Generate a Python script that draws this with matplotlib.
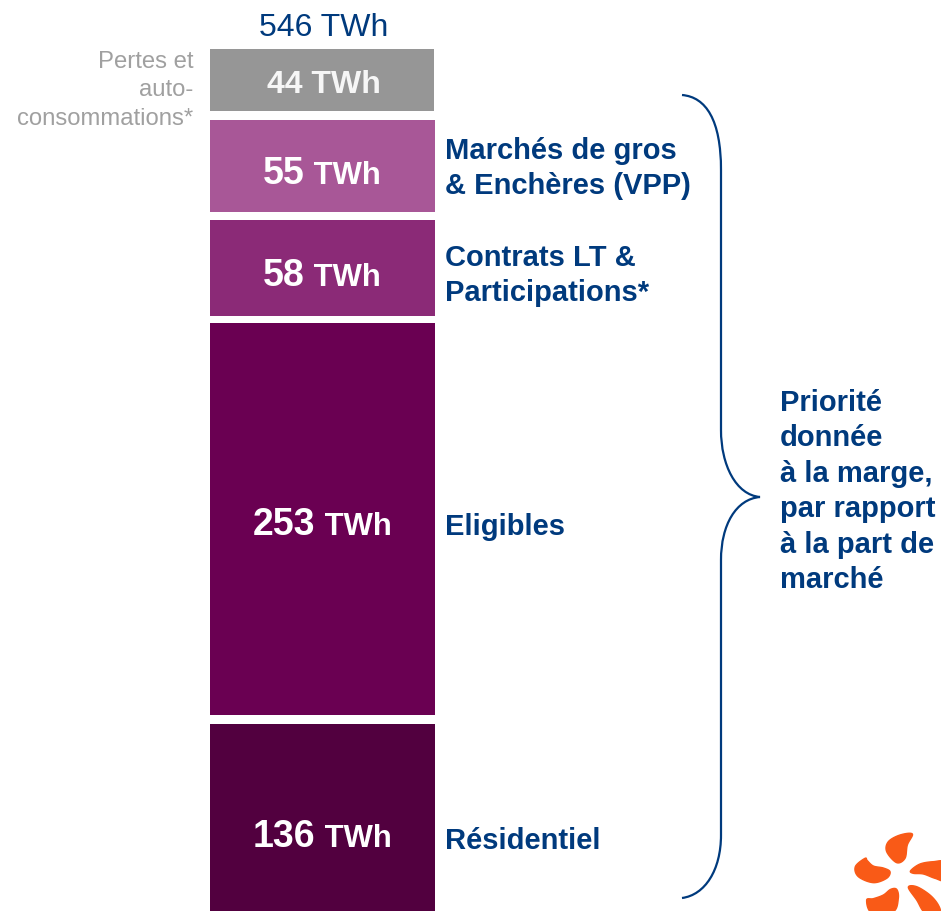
import numpy as np
import matplotlib
matplotlib.use("Agg")
import matplotlib.pyplot as plt
from matplotlib.path import Path
from matplotlib.patches import PathPatch, Polygon

# ---- data, top to bottom ----
categories = ["Pertes et auto-consommations*", "Marchés de gros & Enchères (VPP)",
              "Contrats LT & Participations*", "Eligibles", "Résidentiel"]
values_twh = [44, 55, 58, 253, 136]
total_label = "546 TWh"
side_labels = [None, ["Marchés de gros", "& Enchères (VPP)"],
               ["Contrats LT &", "Participations*"], ["Eligibles"], ["Résidentiel"]]
loss_label = ["Pertes et", "auto-", "consommations*"]
note_label = ["Priorité", "donnée", "à la marge,", "par rapport", "à la part de", "marché"]

# ---- styling / layout (the source graphic is not drawn to a common scale) ----
plt.rcParams["font.family"] = ["Liberation Sans", "DejaVu Sans"]
NAVY, GREY_TXT = "#003A7D", "#A0A0A0"
colors = ["#969696", "#A85797", "#8B2A77", "#6A0052", "#52003F"]
px_per_twh = [62/44, 92/55, 96/58, 392/253, 187/136]
gaps_before = [0, 9, 8, 7, 9]
top_px, bar_left, bar_width = 49, 210, 225
num_base = [93, 184, 286, 535, 847]
side_base = [None, 159, 266, 535, 849]

fig = plt.figure(figsize=(9.41, 9.11), dpi=100, facecolor="white")
ax = fig.add_axes([0, 0, 1, 1])
ax.set_xlim(0, 941); ax.set_ylim(911, 0); ax.axis("off")

y = top_px
centers = bar_left + bar_width/2 - 0.5
r = fig.canvas.get_renderer()
for i, v in enumerate(values_twh):
    y += gaps_before[i]
    h = v * px_per_twh[i]
    ax.bar(bar_left, h, width=bar_width - (1 if i == 0 else 0), bottom=y, align="edge",
           color=colors[i], linewidth=0)
    y += h
    if i == 0:
        ax.text(323.5, num_base[i], f"{v} TWh", color="#F6F6F6", fontsize=23, fontweight="bold",
                ha="center", va="baseline")
    else:
        t1 = ax.text(0, num_base[i], str(v), color="white", fontsize=27, fontweight="bold",
                     ha="left", va="baseline")
        t2 = ax.text(0, num_base[i], " TWh", color="white", fontsize=22.3, fontweight="bold",
                     ha="left", va="baseline")
        w1 = t1.get_window_extent(r).width
        w2 = t2.get_window_extent(r).width
        x0 = centers - (w1 + w2 + 1)/2
        t1.set_x(x0)
        t2.set_x(x0 + w1 + 1)
    if side_labels[i]:
        for j, line in enumerate(side_labels[i]):
            ax.text(445, side_base[i] + j*35, line, color=NAVY, fontsize=21, fontweight="bold",
                    ha="left", va="baseline")

ax.text(323.5, 36.5, total_label, color=NAVY, fontsize=23, ha="center", va="baseline")
for j, line in enumerate(loss_label):
    ax.text(193.5, 68 + j*28.5, line, color=GREY_TXT, fontsize=17.2, ha="right", va="baseline")
for j, line in enumerate(note_label):
    ax.text(780, 411 + j*35.4, line, color=NAVY, fontsize=21, fontweight="bold",
            ha="left", va="baseline")

# brace
verts = [(682, 95), (706, 97), (721, 120), (721, 170),
         (721, 430),
         (721, 465), (736, 495), (760, 497),
         (736, 499), (721, 525), (721, 560),
         (721, 835),
         (721, 870), (705, 895), (682, 898)]
codes = [Path.MOVETO, Path.CURVE4, Path.CURVE4, Path.CURVE4,
         Path.LINETO,
         Path.CURVE4, Path.CURVE4, Path.CURVE4,
         Path.CURVE4, Path.CURVE4, Path.CURVE4,
         Path.LINETO,
         Path.CURVE4, Path.CURVE4, Path.CURVE4]
ax.add_patch(PathPatch(Path(verts, codes), fill=False, edgecolor=NAVY, linewidth=1.6))

# logo
def smooth(pts, n=12):
    p = np.array(pts, float); out = []
    for k in range(len(p)):
        a, b, c, d = p[k-1], p[k], p[(k+1) % len(p)], p[(k+2) % len(p)]
        for t in np.linspace(0, 1, n, endpoint=False):
            out.append(0.5*(2*b + (c-a)*t + (2*a-5*b+4*c-d)*t**2 + (3*b-a-3*c+d)*t**3))
    return np.array(out)
petals = [
    [(727,12),(690,15),(655,35),(650,65),(680,98),(705,85),(712,45)],
    [(585,85),(556,110),(565,140),(610,158),(650,145),(660,125),(640,114),(610,108),(592,92)],
    [(722,122),(750,102),(790,95),(825,97),(825,150),(795,145),(760,132),(730,130)],
    [(590,210),(605,248),(670,245),(685,205),(680,178),(662,178),(640,195),(610,206)],
    [(715,172),(740,170),(780,195),(805,225),(808,248),(765,248),(740,210)],
]
for pts in petals:
    xy = smooth(pts)/3 + np.array([670, 830])
    ax.add_patch(Polygon(xy, closed=True, facecolor="#F95A17", edgecolor="#F95A17", linewidth=1.0))

fig.savefig("out.png", dpi=100, facecolor="white")
